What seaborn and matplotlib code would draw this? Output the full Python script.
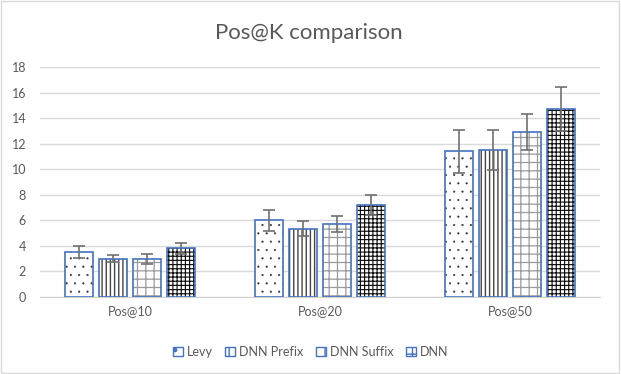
import matplotlib.pyplot as plt
import matplotlib.patches as mpatches
import seaborn as sns
import pandas as pd

categories = ['Pos@10', 'Pos@20', 'Pos@50']
methods = ['Levy', 'DNN Prefix', 'DNN Suffix', 'DNN']
levy = [3.5, 6.0, 11.4]
dnn_prefix = [3.0, 5.35, 11.5]
dnn_suffix = [3.0, 5.7, 12.9]
dnn = [3.8, 7.2, 14.7]
levy_err = [0.45, 0.8, 1.7]
prefix_err = [0.3, 0.6, 1.6]
suffix_err = [0.4, 0.6, 1.4]
dnn_err = [0.4, 0.75, 1.75]

values = [levy, dnn_prefix, dnn_suffix, dnn]
errors = [levy_err, prefix_err, suffix_err, dnn_err]
hatches = ['..', '||||', '++', '++++']
hatch_colors = ['#333333', '#444444', '#9a9a9a', '#111111']
hatch_widths = [0.3, 1.0, 0.9, 0.85]
outline = '#4472C4'
text_col = '#595959'

rows = []
for m, vals in zip(methods, values):
    for c, v in zip(categories, vals):
        rows.append({'cat': c, 'method': m, 'value': v})
df = pd.DataFrame(rows)

sns.set_style('white')
plt.rcParams['font.family'] = ['Lato', 'DejaVu Sans']
plt.rcParams['hatch.linewidth'] = 1.0

fig = plt.figure(figsize=(6.21, 3.74), dpi=100)
ax = fig.add_axes([0.0644, 0.206, 0.9018, 0.615])

sns.barplot(data=df, x='cat', y='value', hue='method', order=categories,
            hue_order=methods, width=0.715, gap=0.2, errorbar=None,
            legend=False, ax=ax)

bar_groups = list(ax.containers)
for i, cont in enumerate(bar_groups):
    xs, ys = [], []
    for bar in cont:
        if bar is None:
            continue
        bar.set_facecolor('white')
        bar.set_hatch(hatches[i])
        bar.set_edgecolor(hatch_colors[i])
        bar.set_linewidth(0)
        if hasattr(bar, 'set_hatch_linewidth'):
            bar.set_hatch_linewidth(hatch_widths[i])
        ax.add_patch(mpatches.Rectangle(bar.get_xy(), bar.get_width(), bar.get_height(),
                                        fill=False, edgecolor=outline, lw=1.2, zorder=3))
        xs.append(bar.get_x() + bar.get_width() / 2)
        ys.append(bar.get_height())
    ax.errorbar(xs, ys, yerr=errors[i], fmt='none', ecolor='#707070',
                elinewidth=1.2, capsize=4, capthick=1.2, zorder=4)

ax.set_ylim(0, 18)
ax.set_yticks(range(0, 19, 2))
ax.grid(axis='y', color='#d9d9d9', lw=1)
ax.set_axisbelow(True)
for s in ['top', 'right', 'left']:
    ax.spines[s].set_visible(False)
ax.spines['bottom'].set_color('#d0d0d0')
ax.tick_params(axis='both', length=0, labelsize=9, colors=text_col)
ax.tick_params(axis='y', pad=10)
ax.tick_params(axis='x', pad=6)
ax.set_xlabel('')
ax.set_ylabel('')

fig.text(0.497, 0.912, 'Pos@K comparison', ha='center', va='center',
         fontsize=16, color=text_col)

handles = [mpatches.Patch(facecolor='white', edgecolor=outline, hatch=h, lw=1)
           for h in ['.', '||', '+', '++']]
leg = fig.legend(handles, methods, loc='center', bbox_to_anchor=(0.5, 0.059),
                 ncol=4, frameon=False, fontsize=9, handlelength=0.8,
                 handleheight=0.8, handletextpad=0.3, columnspacing=1.0)
for t in leg.get_texts():
    t.set_color(text_col)

fig.patches.append(mpatches.Rectangle((0.002, 0.003), 0.995, 0.993, transform=fig.transFigure,
                                      fill=False, edgecolor='#d9d9d9', lw=1))

fig.savefig('out.png', dpi=100)
